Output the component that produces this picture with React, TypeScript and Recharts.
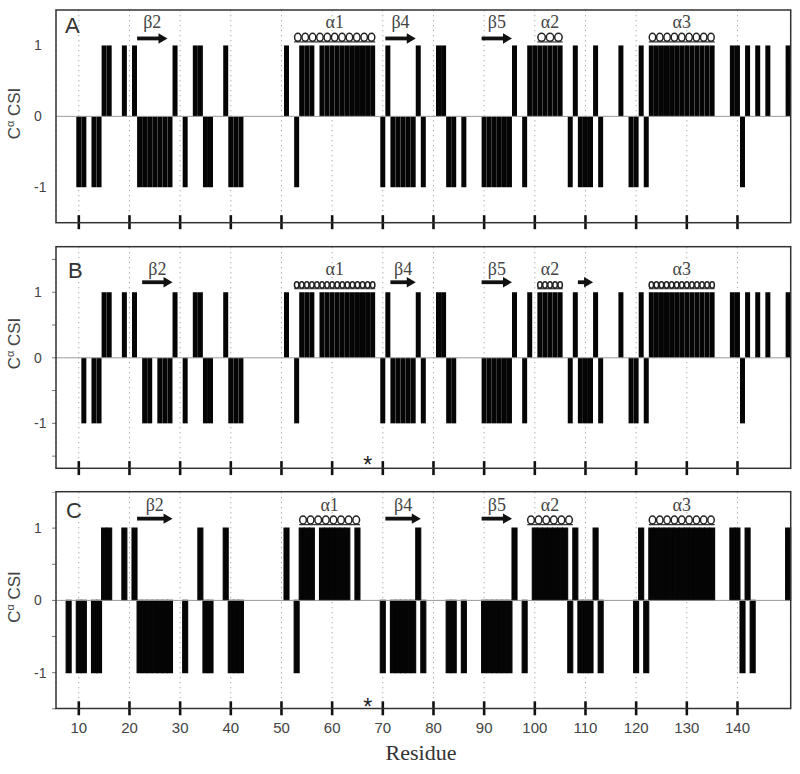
import React from "react";
import {
  BarChart,
  Bar,
  XAxis,
  YAxis,
  CartesianGrid,
  ReferenceLine,
  ReferenceArea,
  ReferenceDot,
} from "recharts";

// residue numbers along the x axis (6..150) and the labelled ticks
const residues = Array.from({ length: 145 }, (_, i) => i + 6);
const residueTicks = [10, 20, 30, 40, 50, 60, 70, 80, 90, 100, 110, 120, 130, 140];

// panel A: residues with CSI = +1 and CSI = -1
const upA = [
  15, 16, 19, 21, 29, 33, 34, 39, 51, 54, 55, 56, 58, 59, 60, 61, 62, 63, 64, 65, 66, 67, 68,
  71, 77, 81, 82, 96, 99, 100, 101, 102, 103, 104, 105, 108, 112, 117, 121, 123, 124, 125, 126,
  127, 128, 129, 130, 131, 132, 133, 134, 135, 139, 140, 142, 144, 146, 150,
];
const downA = [
  10, 11, 13, 14, 22, 23, 24, 25, 26, 27, 28, 31, 35, 36, 40, 41, 42, 53, 70, 72, 73, 74, 75, 76,
  78, 83, 84, 86, 90, 91, 92, 93, 94, 95, 98, 107, 109, 110, 111, 113, 119, 120, 122, 141,
];

// panel B
const upB = [
  15, 16, 19, 21, 29, 33, 34, 39, 51, 54, 55, 56, 58, 59, 60, 61, 62, 63, 64, 65, 66, 67, 68,
  71, 77, 81, 82, 96, 99, 101, 102, 103, 104, 105, 108, 112, 117, 121, 123, 124, 125, 126, 127,
  128, 129, 130, 131, 132, 133, 134, 135, 139, 140, 142, 144, 146, 150,
];
const downB = [
  11, 13, 14, 23, 24, 26, 27, 28, 31, 35, 36, 40, 41, 42, 53, 70, 72, 73, 74, 75, 76, 78, 83, 84,
  90, 91, 92, 93, 94, 95, 98, 107, 109, 110, 111, 113, 119, 120, 122, 141,
];

// panel C
const upC = [
  15, 16, 19, 21, 34, 39, 51, 54, 55, 56, 58, 59, 60, 61, 62, 63, 65, 77, 96, 100, 101, 102, 103,
  104, 105, 106, 108, 112, 121, 123, 124, 125, 126, 127, 128, 129, 130, 131, 132, 133, 134, 135,
  139, 140, 142, 150,
];
const downC = [
  8, 10, 11, 13, 14, 22, 23, 24, 25, 26, 27, 28, 31, 35, 36, 40, 41, 42, 53, 70, 72, 73, 74, 75,
  76, 78, 83, 84, 86, 90, 91, 92, 93, 94, 95, 98, 107, 109, 110, 111, 113, 120, 122, 141, 143,
];

// secondary structure drawn above each panel
const strandsA = [
  { name: "β2", from: 22, to: 27 },
  { name: "β4", from: 71, to: 76 },
  { name: "β5", from: 90, to: 95 },
];
const helicesA = [
  { name: "α1", from: 53, to: 68 },
  { name: "α2", from: 101, to: 105 },
  { name: "α3", from: 123, to: 135 },
];
const strandsB = [
  { name: "β2", from: 23, to: 28 },
  { name: "β4", from: 72, to: 76 },
  { name: "β5", from: 90, to: 95 },
  { name: "", from: 109, to: 111 },
];
const helicesB = [
  { name: "α1", from: 53, to: 68 },
  { name: "α2", from: 101, to: 105 },
  { name: "α3", from: 123, to: 135 },
];
const strandsC = [
  { name: "β2", from: 22, to: 28 },
  { name: "β4", from: 71, to: 77 },
  { name: "β5", from: 90, to: 95 },
];
const helicesC = [
  { name: "α1", from: 54, to: 65 },
  { name: "α2", from: 99, to: 107 },
  { name: "α3", from: 123, to: 135 },
];

// residue marked with an asterisk
const starResidue = 67;

const buildRows = (up: number[], down: number[]) =>
  residues.map((res) => ({
    res,
    csi: up.includes(res) ? 1 : down.includes(res) ? -1 : null,
  }));

const SANS = "'Liberation Sans', Arial, sans-serif";
const SERIF = "'Liberation Serif', 'Times New Roman', serif";
const PLOT_LEFT = 56;
const PLOT_RIGHT = 790.7;

function XTick(props: any) {
  const { x, y, payload, showLabel } = props;
  return (
    <g>
      <line x1={x} x2={x} y1={y - 7.5} y2={y + 6.5} stroke="#111" strokeWidth={2.6} />
      {showLabel && (
        <text x={x} y={y + 24} textAnchor="middle" fontSize={15} fill="#444" fontFamily={SANS}>
          {payload.value}
        </text>
      )}
    </g>
  );
}

function YTick(props: any) {
  const { y, payload } = props;
  if (!Number.isInteger(payload.value)) return null;
  return (
    <text x={34} y={y + 5} textAnchor="start" fontSize={14} fill="#444" fontFamily={SANS}>
      {String(payload.value)}
    </text>
  );
}

function Strand(props: any) {
  const { x, y, width, height, name, lift } = props;
  const base = y + height;
  const cy = base - lift;
  const end = x + width;
  return (
    <g>
      {name && (
        <text x={x + width / 2} y={base - 17} textAnchor="middle" fontSize={18} fill="#444" fontFamily={SERIF}>
          {name}
        </text>
      )}
      <line x1={x} x2={end - 7} y1={cy} y2={cy} stroke="#111" strokeWidth={3.8} />
      <polygon points={`${end - 9},${cy - 5.2} ${end},${cy} ${end - 9},${cy + 5.2}`} fill="#111" />
    </g>
  );
}

function Helix(props: any) {
  const { x, y, width, height, name, step, ry } = props;
  const base = y + height;
  const line = base - 3.5;
  const n = Math.max(2, Math.round(width / step));
  const w = width / n;
  const loops = [];
  for (let i = 0; i < n; i++) {
    loops.push(
      <ellipse
        key={i}
        cx={x + (i + 0.5) * w}
        cy={line - ry - 0.6}
        rx={w * 0.44}
        ry={ry}
        fill="none"
        stroke="#222"
        strokeWidth={1.5}
      />
    );
  }
  return (
    <g>
      <text x={x + width / 2} y={base - 17} textAnchor="middle" fontSize={18} fill="#444" fontFamily={SERIF}>
        {name}
      </text>
      <line x1={x} x2={x + width} y1={line} y2={line} stroke="#333" strokeWidth={1.2} />
      {loops}
    </g>
  );
}

function Star(props: any) {
  const { cx, cy } = props;
  return (
    <text x={cx} y={cy + 13} textAnchor="middle" fontSize={23} fill="#222" fontFamily={SANS}>
      *
    </text>
  );
}

const panels = [
  {
    letter: "A",
    letterX: 65,
    letterY: 33,
    top: 10,
    plotH: 212.7,
    yMax: 1.5,
    yTicks: [-1, 0, 1],
    minor: false,
    rows: buildRows(upA, downA),
    strands: strandsA,
    helices: helicesA,
    solid: false,
    lift: 7,
    step: 7.5,
    ry: 4,
    star: null as number | null,
    titleY: 113.5,
    showLabels: false,
  },
  {
    letter: "B",
    letterX: 68,
    letterY: 278,
    top: 246.7,
    plotH: 221.6,
    yMax: 1.69,
    yTicks: [-1.5, -1, -0.5, 0, 0.5, 1, 1.5],
    minor: true,
    rows: buildRows(upB, downB),
    strands: strandsB,
    helices: helicesB,
    solid: false,
    lift: 10,
    step: 5.2,
    ry: 3.2,
    star: -1.56,
    titleY: 343.5,
    showLabels: false,
  },
  {
    letter: "C",
    letterX: 66,
    letterY: 518,
    top: 491.7,
    plotH: 216.8,
    yMax: 1.5,
    yTicks: [-1.5, -1, -0.5, 0, 0.5, 1, 1.5],
    minor: true,
    rows: buildRows(upC, downC),
    strands: strandsC,
    helices: helicesC,
    solid: true,
    lift: 9.5,
    step: 7.5,
    ry: 4,
    star: -1.41,
    titleY: 597,
    showLabels: true,
  },
];

function Panel({ p }: { p: (typeof panels)[number] }) {
  const xAxisH = p.showLabels ? 70 : 12;
  return (
    <div style={{ position: "absolute", left: 0, top: p.top }}>
      <BarChart
        width={800}
        height={p.plotH + xAxisH}
        data={p.rows}
        margin={{ top: 0, right: 800 - PLOT_RIGHT, bottom: 0, left: PLOT_LEFT - 50 }}
        barCategoryGap={0}
        barGap={0}
      >
        <CartesianGrid horizontal={false} stroke="#a8a8a8" strokeDasharray="1.3 3.7" />
        <XAxis
          dataKey="res"
          type="category"
          ticks={residueTicks}
          interval={0}
          axisLine={false}
          tickLine={false}
          tickSize={0}
          tickMargin={0}
          height={xAxisH}
          tick={(t: any) => <XTick {...t} showLabel={p.showLabels} />}
        />
        <YAxis
          type="number"
          domain={[-p.yMax, p.yMax]}
          ticks={p.yTicks}
          interval={0}
          width={50}
          axisLine={false}
          tickLine={p.minor ? { stroke: "#777" } : false}
          tickSize={4}
          tickMargin={4}
          tick={(t: any) => <YTick {...t} />}
        />
        <ReferenceLine y={0} stroke="#9a9a9a" strokeWidth={1} />
        <Bar
          dataKey="csi"
          fill="#050505"
          stroke={p.solid ? "#050505" : "none"}
          strokeWidth={p.solid ? 1.1 : 0}
          isAnimationActive={false}
        />
        {p.strands.map((s) => (
          <ReferenceArea
            key={`s${s.from}`}
            x1={s.from}
            x2={s.to}
            y1={1}
            y2={1.2}
            shape={(r: any) => <Strand {...r} name={s.name} lift={p.lift} />}
          />
        ))}
        {p.helices.map((h) => (
          <ReferenceArea
            key={`h${h.from}`}
            x1={h.from}
            x2={h.to}
            y1={1}
            y2={1.2}
            shape={(r: any) => <Helix {...r} name={h.name} step={p.step} ry={p.ry} />}
          />
        ))}
        {p.star !== null && (
          <ReferenceDot x={starResidue} y={p.star} r={0} shape={(d: any) => <Star {...d} />} />
        )}
      </BarChart>
    </div>
  );
}

export default function App() {
  return (
    <div style={{ position: "absolute", left: 0, top: 0, width: 800, height: 774, background: "#fff" }}>
      {panels.map((p) => (
        <Panel key={p.letter} p={p} />
      ))}
      <svg
        width={800}
        height={774}
        style={{ position: "absolute", left: 0, top: 0, pointerEvents: "none" }}
      >
        {panels.map((p) => (
          <g key={p.letter}>
            <rect
              x={PLOT_LEFT}
              y={p.top}
              width={PLOT_RIGHT - PLOT_LEFT}
              height={p.plotH}
              fill="none"
              stroke="#333"
              strokeWidth={1.5}
            />
            <text x={p.letterX} y={p.letterY} fontSize={22} fill="#333" fontFamily={SANS}>
              {p.letter}
            </text>
            <text
              x={20}
              y={p.titleY}
              transform={`rotate(-90 20 ${p.titleY})`}
              textAnchor="middle"
              fontSize={17}
              fill="#444"
              fontFamily={SANS}
            >
              <tspan>C</tspan>
              <tspan dy={-6} fontSize={11}>
                α
              </tspan>
              <tspan dy={6}> CSI</tspan>
            </text>
          </g>
        ))}
        <text x={421} y={760} textAnchor="middle" fontSize={22} fill="#333" fontFamily={SERIF}>
          Residue
        </text>
      </svg>
    </div>
  );
}
